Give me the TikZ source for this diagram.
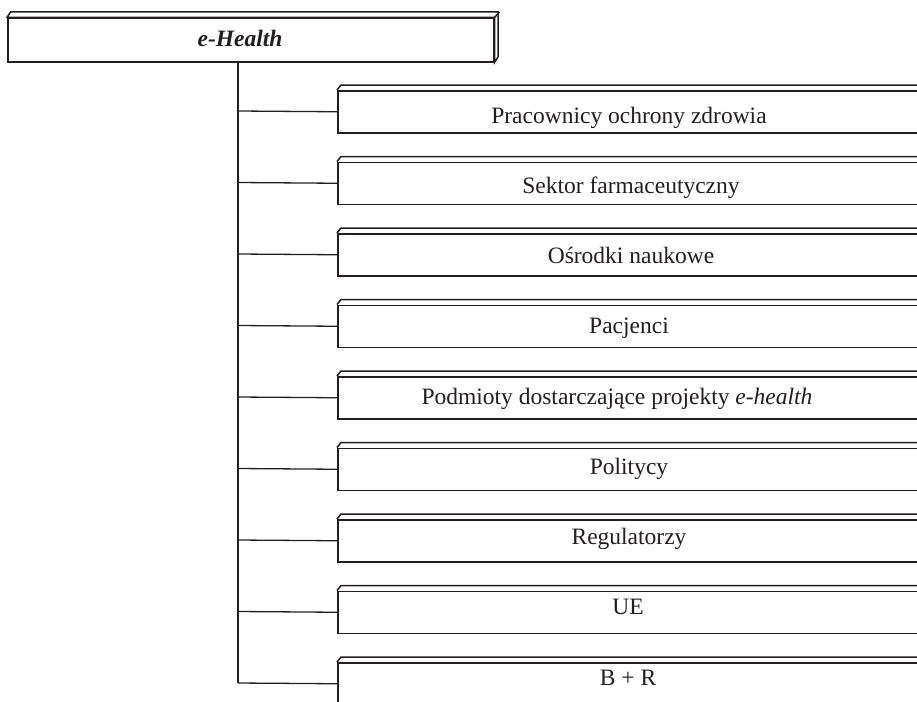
\documentclass[tikz,border=0pt]{standalone}
\usepackage{fontspec}
\setmainfont{Liberation Serif}
\definecolor{ink}{HTML}{231F20}
\begin{document}
\begin{tikzpicture}[x=1pt,y=-1pt,
  outline/.style={draw=ink,line width=1.5pt,line join=miter},
  boxface/.style={outline,fill=white,inner sep=0pt,minimum width=600pt,minimum height=42pt,anchor=north west},
  topface/.style={outline,fill=white,inner sep=0pt,minimum width=486pt,minimum height=43.5pt,anchor=north west},
  lbl/.style={text=ink,font=\fontsize{23.5}{28}\selectfont,anchor=base,inner sep=0pt},
  conn/.style={draw=ink,line width=1.3pt}]
\useasboundingbox (0,0) rectangle (917,701);
% top box
\node[topface] (top) at (7,17.5) {};
\draw[outline,fill=white] (top.north west) -- ++(3.5,-5.5) -- ++(487.5,0) -- ++(0,45) -- (top.south east) -- (top.north east) -- cycle;
\draw[outline] (top.north east) -- ++(5,-5.5);
\node[lbl,font=\fontsize{23.5}{28}\selectfont\bfseries\itshape] (toplbl) at (240,46.5) {e-Health};
% child boxes
\foreach \i/\cx/\t in {0/629/{Pracownicy ochrony zdrowia},1/631/{Sektor farmaceutyczny},2/631/{Ośrodki naukowe},3/629/{Pacjenci},4/617/{Podmioty dostarczające projekty \textit{e-health}},5/629/{Politycy},6/629/{Regulatorzy},7/628/{UE},8/628/{B + R}}{
  \pgfmathsetmacro{\yt}{90+71.5*\i}
  \pgfmathsetmacro{\yb}{123+70.25*\i}
  \node[boxface] (b\i) at (337,\yt) {};
  \draw[outline] (b\i.north west) -- ++(4,-5) -- ++(596,0);
  \coordinate (t\i) at (238,\yt+21);
  \draw[conn] (t\i) -- (b\i.west);
  \node[lbl] (l\i) at (\cx,\yb) {\t};
}
% trunk
\coordinate (tk) at (238,61);
\coordinate (tm1) at (238,320);
\coordinate (tm2) at (238,470);
\draw[draw=ink,line width=2.6pt] (tk) -- (tm1);
\draw[draw=ink,line width=1.9pt] (tm1) -- (tm2);
\draw[draw=ink,line width=1.5pt] (tm2) -- (t8);
\end{tikzpicture}
\end{document}
